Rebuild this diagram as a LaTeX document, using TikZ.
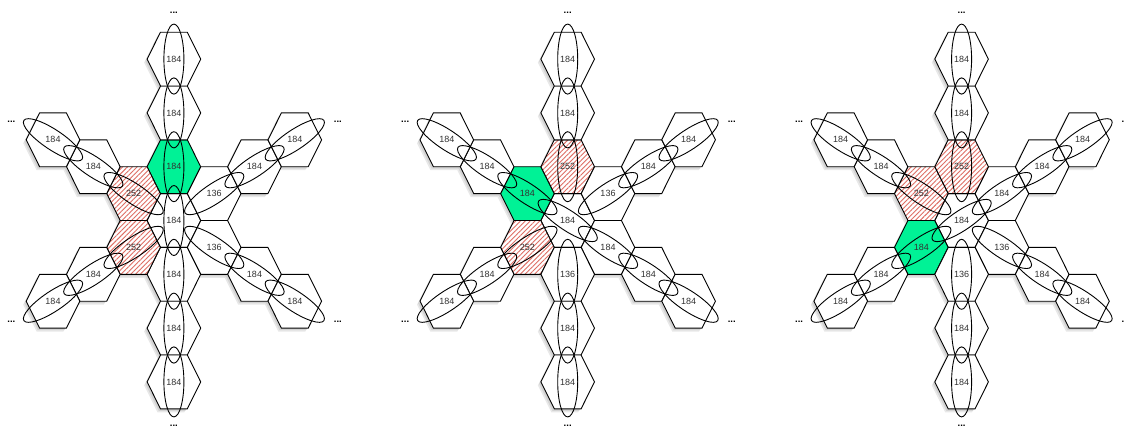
\documentclass[tikz,border=0pt]{standalone}
\usepackage{fontspec}
\setmainfont{Liberation Sans}
\usetikzlibrary{patterns.meta}
\pgfdeclarelayer{shadowlayer}
\pgfdeclarelayer{hexlayer}
\pgfdeclarelayer{textlayer}
\pgfsetlayers{shadowlayer,hexlayer,main,textlayer}
\definecolor{cellgreen}{RGB}{0,242,150}
\definecolor{hatchred}{RGB}{222,110,100}
\definecolor{labelgray}{RGB}{50,50,50}
\tikzset{
  hexshape/.style={draw=black,line width=0.9pt,line join=miter},
  plaincell/.style={fill=white},
  greencell/.style={fill=cellgreen},
  hatchcell/.style={preaction={fill=white},pattern={Lines[angle=45,distance=3.4pt,line width=0.9pt]},pattern color=hatchred},
  ring/.style={draw=black,line width=0.9pt},
  lab/.style={font=\fontsize{9}{10}\selectfont,text=labelgray,inner sep=0pt},
  dots/.style={font=\fontsize{9.5}{10}\selectfont\bfseries,inner sep=0pt},
  shadowfill/.style={fill=black,opacity=0.09},
}
\newcommand\hexcell[6]{% name, x, y, style, label, angle
  \pgfmathsetmacro\hcx{#2}%
  \pgfmathsetmacro\hcy{#3}%
  \pgfmathsetmacro\hsax{\hcx-3}%
  \pgfmathsetmacro\hsay{\hcy+3.5}%
  \pgfmathsetmacro\hsbx{\hcx-1.8}%
  \pgfmathsetmacro\hsby{\hcy+2}%
  \begin{pgfonlayer}{shadowlayer}
    \path[shadowfill,shift={(\hsax,\hsay)}] (-26.8,0) -- (-13.4,-26.9) -- (13.4,-26.9) -- (26.8,0) -- (13.4,26.9) -- (-13.4,26.9) -- cycle;
    \path[shadowfill,shift={(\hsbx,\hsby)}] (-26.8,0) -- (-13.4,-26.9) -- (13.4,-26.9) -- (26.8,0) -- (13.4,26.9) -- (-13.4,26.9) -- cycle;
  \end{pgfonlayer}
  \begin{pgfonlayer}{hexlayer}
    \path[hexshape,#4,shift={(\hcx,\hcy)}] (-26.8,0) -- (-13.4,-26.9) -- (13.4,-26.9) -- (26.8,0) -- (13.4,26.9) -- (-13.4,26.9) -- cycle;
  \end{pgfonlayer}
  \draw[ring,rotate around={#6:(\hcx,\hcy)}] (\hcx,\hcy) ellipse [x radius=35pt,y radius=10pt];
  \begin{pgfonlayer}{textlayer}
    \node[lab] (#1) at (\hcx,\hcy) {#5};
  \end{pgfonlayer}
}
\newcommand\arm[7]{% prefix, cx, dx, dy, angle, first style, first label
  \hexcell{#1a}{#2+40.3*(#3)}{220.5+26.9*(#4)}{#6}{#7}{#5}
  \hexcell{#1b}{#2+2*40.3*(#3)}{220.5+2*26.9*(#4)}{plaincell}{184}{#5}
  \hexcell{#1c}{#2+3*40.3*(#3)}{220.5+3*26.9*(#4)}{plaincell}{184}{#5}
}
\newcommand\flakedots[2]{% prefix, cx
  \node[dots] (#1dt) at ({#2},12.5) {...};
  \node[dots] (#1dl) at ({#2-162.5},122) {...};
  \node[dots] (#1dr) at ({#2+164},122) {...};
  \node[dots] (#1dbl) at ({#2-162.5},321.5) {...};
  \node[dots] (#1dbr) at ({#2+164},321.5) {...};
  \node[dots] (#1db) at ({#2},425.5) {...};
}
\begin{document}
\begin{tikzpicture}[x=1pt,y=-1pt]
\useasboundingbox (0,0) rectangle (1124,429);
\begin{pgfonlayer}{shadowlayer}
  \fill[white] (0,0) rectangle (1124,429);
\end{pgfonlayer}
% snowflake 1
\hexcell{Actr}{173.9}{220.5}{plaincell}{184}{90}
\arm{Aup}{173.9}{0}{-2}{90}{greencell}{184}
\arm{Adn}{173.9}{0}{2}{90}{plaincell}{184}
\arm{Aul}{173.9}{-1}{-1}{-33.7}{hatchcell}{252}
\arm{All}{173.9}{-1}{1}{33.7}{hatchcell}{252}
\arm{Aur}{173.9}{1}{-1}{33.7}{plaincell}{136}
\arm{Alr}{173.9}{1}{1}{-33.7}{plaincell}{136}
\flakedots{A}{173.9}
% snowflake 2
\hexcell{Bctr}{567.7}{220.5}{plaincell}{184}{-33.7}
\arm{Bul}{567.7}{-1}{-1}{-33.7}{greencell}{184}
\arm{Blr}{567.7}{1}{1}{-33.7}{plaincell}{184}
\arm{Bup}{567.7}{0}{-2}{90}{hatchcell}{252}
\arm{Bll}{567.7}{-1}{1}{33.7}{hatchcell}{252}
\arm{Bur}{567.7}{1}{-1}{33.7}{plaincell}{136}
\arm{Bdn}{567.7}{0}{2}{90}{plaincell}{136}
\flakedots{B}{567.7}
% snowflake 3
\hexcell{Cctr}{961.6}{220.5}{plaincell}{184}{33.7}
\arm{Cll}{961.6}{-1}{1}{33.7}{greencell}{184}
\arm{Cur}{961.6}{1}{-1}{33.7}{plaincell}{184}
\arm{Cup}{961.6}{0}{-2}{90}{hatchcell}{252}
\arm{Cul}{961.6}{-1}{-1}{-33.7}{hatchcell}{252}
\arm{Clr}{961.6}{1}{1}{-33.7}{plaincell}{136}
\arm{Cdn}{961.6}{0}{2}{90}{plaincell}{136}
\flakedots{C}{961.6}
\end{tikzpicture}
\end{document}
